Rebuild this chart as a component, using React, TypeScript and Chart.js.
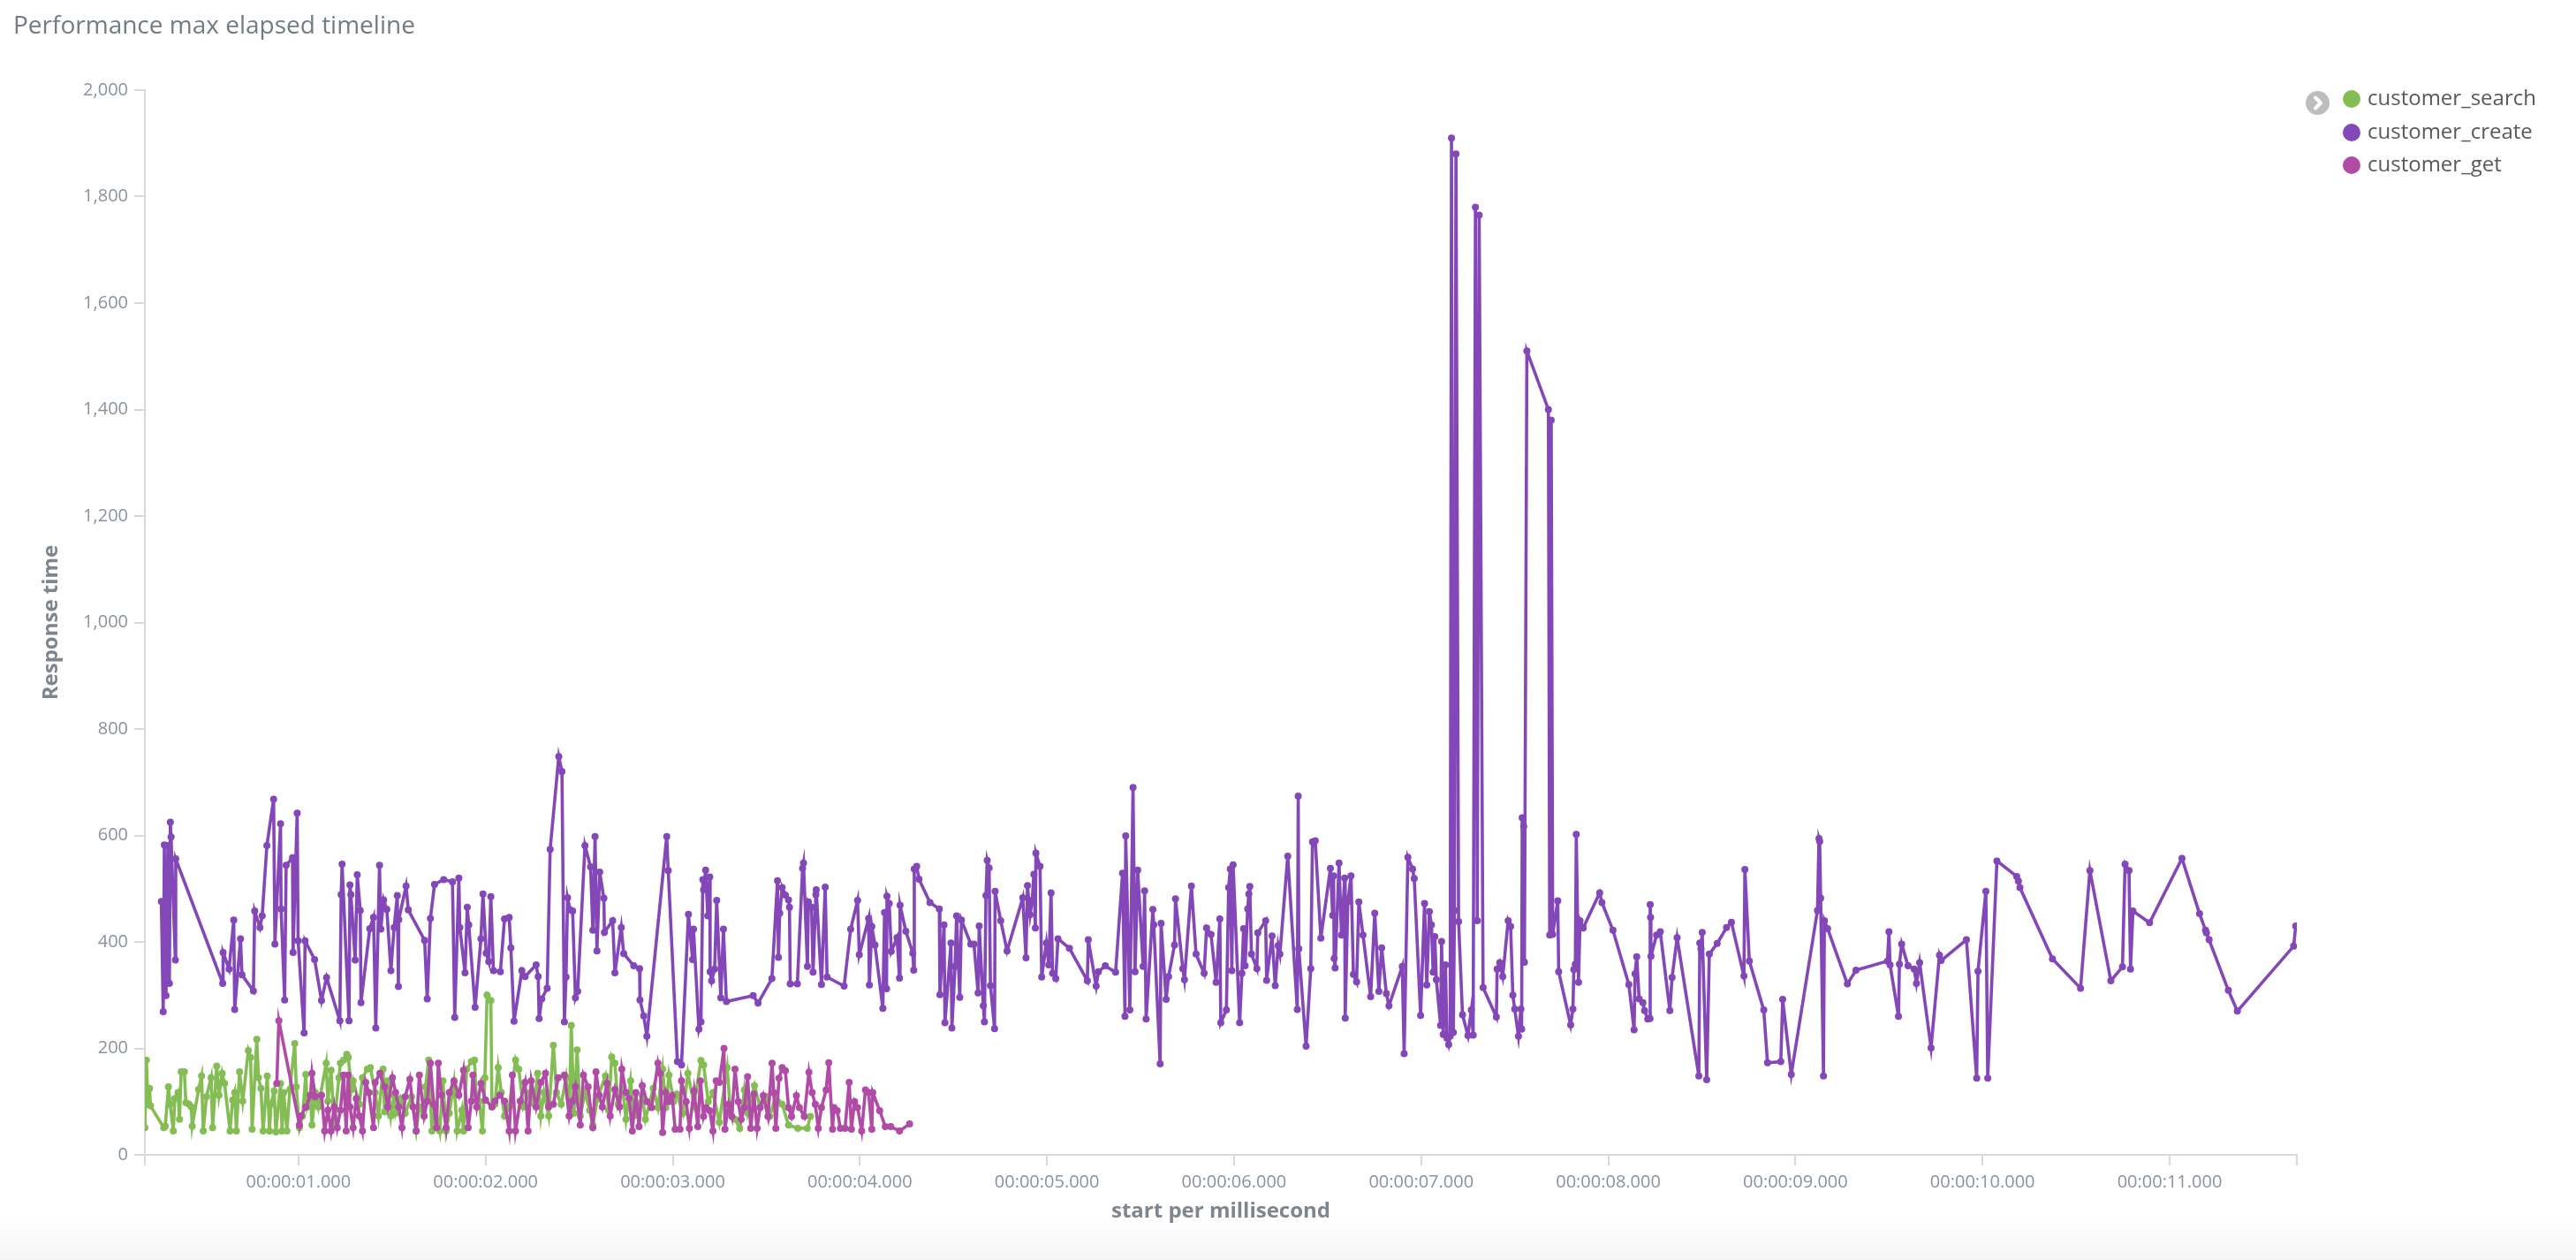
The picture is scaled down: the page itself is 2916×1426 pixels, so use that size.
import React, { useEffect, useRef } from 'react';
import { Chart, registerables } from 'chart.js';
Chart.register(...registerables);

type Pt = [number, number];

const chartTitle = 'Performance max elapsed timeline';
const xAxisTitle = 'start per millisecond';
const yAxisTitle = 'Response time';
const seriesNames = ['customer_search', 'customer_create', 'customer_get'];
const seriesColors = ['#84BD54', '#8347B8', '#B04CA6'];

const xMin = 179;
const xMax = 11680;
const xTickValues = [1000, 2000, 3000, 4000, 5000, 6000, 7000, 8000, 9000, 10000, 11000];
const xTickLabels = ['00:00:01.000', '00:00:02.000', '00:00:03.000', '00:00:04.000', '00:00:05.000', '00:00:06.000', '00:00:07.000', '00:00:08.000', '00:00:09.000', '00:00:10.000', '00:00:11.000'];
const yTickValues = [0, 200, 400, 600, 800, 1000, 1200, 1400, 1600, 1800, 2000];
const yTickLabels = ['0', '200', '400', '600', '800', '1,000', '1,200', '1,400', '1,600', '1,800', '2,000'];

const customerSearch: Pt[] = [
  [179,51],[187,178],[196,95],[204,125],[209,92],[280,51],[288,54],[305,128],[314,95],[331,45],[339,106],[356,117],[364,67],[373,156],[390,156],[398,98],[415,95],[427,90],[432,54],[466,123],[482,148],[491,45],[508,109],[533,145],[541,51],[563,167],[575,112],[592,153],[605,134],[634,45],[648,103],[659,117],[668,45],[685,156],[702,101],[732,196],[744,183],[752,48],[777,217],[786,145],[799,125],[811,45],[833,148],[845,45],[853,95],[870,120],[879,43],[904,134],[912,45],[921,117],[938,45],[954,123],[980,209],[988,128],[1005,51],[1022,73],[1039,151],[1047,90],[1064,106],[1072,56],[1089,117],[1106,90],[1148,172],[1157,101],[1174,159],[1191,56],[1216,145],[1224,172],[1241,178],[1258,189],[1266,183],[1283,123],[1292,139],[1325,95],[1342,145],[1368,161],[1384,164],[1410,117],[1427,73],[1452,161],[1460,81],[1477,139],[1494,73],[1511,112],[1519,78],[1545,106],[1570,78],[1604,109],[1629,45],[1646,90],[1671,73],[1679,128],[1696,178],[1713,45],[1730,90],[1755,45],[1772,139],[1789,45],[1806,78],[1831,136],[1848,45],[1873,84],[1882,45],[1899,161],[1924,175],[1941,178],[1949,112],[1966,101],[1983,45],[1996,145],[2008,300],[2028,290],[2034,90],[2050,95],[2067,164],[2084,117],[2101,73],[2126,90],[2160,178],[2177,161],[2202,90],[2236,117],[2261,95],[2278,153],[2295,73],[2312,117],[2337,73],[2362,206],[2379,117],[2404,95],[2430,145],[2447,73],[2458,243],[2472,78],[2489,197],[2506,73],[2531,117],[2556,84],[2573,56],[2598,106],[2640,148],[2657,84],[2674,184],[2691,172],[2708,95],[2733,123],[2750,67],[2775,139],[2792,73],
  [2803,83],[2837,111],[2854,67],[2896,125],[2921,89],[2946,161],[2963,89],[2980,150],[3005,100],[3022,114],[3055,78],[3081,153],[3114,95],[3151,177],[3165,169],[3190,100],[3215,117],[3249,61],[3291,164],[3308,83],[3333,67],[3358,50],[3383,122],[3400,78],[3437,130],[3467,89],[3501,109],[3518,72],[3551,111],[3585,95],[3619,56],[3669,50],[3719,50],[3736,72]
];

const customerCreate: Pt[] = [
  [267,476],[277,269],[283,582],[292,299],[302,581],[310,322],[315,625],[319,597],[342,366],[344,556],[595,322],[597,380],[629,349],[654,441],[659,273],[690,406],[698,338],[759,308],[766,458],[794,427],[806,449],[831,581],[867,668],[874,396],[904,622],[907,462],[926,291],[934,544],[968,558],[971,380],[993,642],[998,402],[1030,229],[1035,402],[1086,367],[1123,290],[1150,333],[1221,252],[1228,489],[1233,546],[1270,252],[1275,507],[1280,489],[1303,366],[1314,526],[1330,459],[1334,286],[1381,425],[1401,446],[1413,238],[1433,544],[1440,424],[1455,479],[1472,461],[1494,346],[1511,427],[1528,487],[1534,316],[1536,442],[1575,505],[1587,460],[1674,403],[1688,293],[1705,444],[1727,508],[1776,517],[1823,513],[1835,258],[1857,520],[1862,427],[1890,342],[1902,465],[1910,432],[1944,277],[1975,406],[1986,490],[2003,379],[2017,363],[2028,485],[2042,346],[2079,344],[2101,443],[2126,446],[2135,389],[2152,251],[2194,346],[2211,335],[2270,357],[2281,335],[2286,256],[2300,293],[2329,313],[2345,574],[2391,748],[2408,720],[2421,250],[2430,334],[2438,483],[2452,460],[2465,458],[2480,295],[2492,307],[2531,581],[2561,541],[2573,422],[2585,598],[2595,383],[2610,531],[2632,482],[2635,418],[2679,440],[2691,342],[2725,427],[2738,378],[2792,355],
  [2823,350],[2825,291],[2845,261],[2862,223],[2968,598],[2976,534],[3025,175],[3047,169],[3084,452],[3106,367],[3111,424],[3140,236],[3151,250],[3161,517],[3165,498],[3176,535],[3187,449],[3198,522],[3200,344],[3208,327],[3224,349],[3235,478],[3257,295],[3271,424],[3287,288],[3430,299],[3456,285],[3530,331],[3560,515],[3565,371],[3572,454],[3585,502],[3602,488],[3619,479],[3624,465],[3628,321],[3666,321],[3694,538],[3699,548],[3720,354],[3725,475],[3742,465],[3750,343],[3765,489],[3767,498],[3795,320],[3815,503],[3825,334],[3916,317],[3951,424],[3988,478],[3997,376],[4047,444],[4051,319],[4064,429],[4081,394],[4123,275],[4132,455],[4143,312],[4145,486],[4157,472],[4168,382],[4199,408],[4212,332],[4215,469],[4246,420],[4283,379],[4288,347],[4291,537],[4304,542],[4316,518],[4375,474],[4425,462],[4428,301],[4450,432],[4455,248],[4487,398],[4492,238],[4509,354],[4517,449],[4534,296],[4543,441],[4593,396],[4610,396],[4632,304],[4638,430],[4660,280],[4666,250],[4674,487],[4681,553],[4691,539],[4698,318],[4720,237],[4723,495],[4753,440],[4787,383],[4871,483],[4888,370],[4896,506],[4910,451],[4921,478],[4930,527],[4938,426],[4941,567],[4963,542],[4972,334],[4997,398],[5010,357],[5022,492],[5030,341],[5047,331],[5059,406],[5120,388],[5216,327],[5221,404],[5263,317],[5275,344],[5312,355],
  [5367,343],[5404,529],[5417,260],[5421,599],[5443,272],[5460,690],[5471,344],[5485,535],[5514,354],[5522,496],[5530,255],[5566,461],[5571,432],[5605,171],[5610,435],[5637,292],[5650,335],[5682,394],[5687,481],[5726,350],[5735,329],[5772,505],[5797,377],[5840,341],[5853,426],[5877,414],[5904,324],[5924,443],[5929,248],[5959,272],[5971,502],[5980,537],[5988,346],[5995,545],[6030,248],[6042,341],[6051,425],[6059,355],[6073,462],[6079,490],[6084,504],[6093,377],[6122,350],[6127,417],[6169,440],[6174,328],[6203,411],[6220,318],[6236,393],[6245,377],[6287,561],[6338,273],[6343,674],[6346,387],[6385,204],[6410,350],[6419,588],[6434,590],[6464,407],[6515,538],[6527,450],[6532,524],[6535,369],[6540,351],[6561,548],[6574,413],[6591,520],[6594,257],[6608,476],[6625,524],[6638,339],[6655,325],[6667,475],[6689,413],[6730,297],[6752,454],[6774,307],[6789,389],[6814,303],[6828,280],[6899,354],[6909,190],[6929,559],[6954,537],[6963,519],[6997,262],[7018,472],[7030,319],[7044,457],[7055,432],[7064,343],[7073,410],[7081,329],[7104,243],[7109,401],[7118,226],[7130,357],[7138,219],[7147,207],[7155,223],[7162,1910],[7172,230],[7178,459],[7186,1880],[7200,438],[7221,263],[7250,224],[7268,272],[7278,225],[7290,1780],[7300,440],[7310,1765],[7331,314],[7402,259],[7406,349],[7420,361],[7436,335],[7465,440],[7478,429],[7490,300],[7500,274],[7520,223],[7533,274],[7537,236],[7540,633],[7548,617],[7552,362],[7565,1510],[7680,1400],[7687,413],[7695,1380],[7703,414],[7730,477],[7735,344],[7799,244],[7811,274],[7816,348],[7824,358],[7829,602],[7841,324],[7849,440],[7866,426],
  [7954,492],[7966,474],[8025,422],[8110,320],[8138,235],[8143,340],[8152,372],[8165,293],[8185,286],[8194,271],[8211,255],[8223,256],[8224,470],[8226,446],[8228,373],[8258,413],[8278,419],[8329,271],[8341,333],[8368,408],[8484,148],[8489,398],[8495,387],[8502,418],[8526,141],[8540,377],[8582,397],[8632,427],[8658,437],[8725,336],[8730,536],[8754,364],[8831,272],[8851,173],[8922,175],[8932,292],[8978,151],[9118,459],[9126,594],[9130,589],[9135,482],[9150,148],[9155,440],[9172,425],[9278,321],[9324,347],[9492,364],[9500,419],[9506,357],[9551,260],[9556,358],[9568,396],[9602,355],[9635,349],[9647,322],[9664,361],[9725,201],[9770,375],[9779,365],[9914,404],[9969,144],[9976,345],[10018,495],[10028,144],[10077,552],[10183,523],[10192,514],[10200,502],[10374,368],
  [10524,313],[10574,534],[10686,327],[10748,353],[10762,546],[10783,534],[10791,349],[10804,458],[10893,436],[11066,557],[11160,453],[11192,422],[11197,417],[11211,404],[11314,309],[11362,270],[11663,392],[11674,430]
];

const customerGet: Pt[] = [
  [884,134],[895,252],[1005,56],[1013,73],[1039,90],[1064,112],[1072,153],[1089,109],[1123,112],[1140,45],[1157,84],[1174,45],[1191,90],[1207,51],[1224,84],[1241,150],[1255,45],[1266,150],[1275,90],[1292,51],[1309,106],[1325,73],[1342,45],[1359,136],[1376,117],[1401,51],[1410,136],[1435,153],[1460,128],[1477,90],[1502,145],[1519,117],[1536,90],[1553,51],[1570,109],[1595,142],[1612,90],[1629,45],[1646,150],[1671,73],[1688,101],[1705,172],[1722,95],[1738,51],[1747,172],[1764,112],[1789,51],[1806,117],[1831,139],[1857,112],[1882,159],[1907,51],[1924,101],[1932,150],[1953,90],[1975,134],[2000,103],[2034,90],[2050,101],[2076,112],[2101,101],[2126,45],[2143,150],[2160,45],[2185,101],[2211,136],[2227,45],[2244,139],[2270,90],[2295,136],[2320,153],[2337,90],[2362,95],[2388,145],[2421,150],[2447,73],[2463,101],[2480,128],[2506,56],[2523,150],[2548,128],[2573,51],[2590,156],[2607,112],[2624,90],[2649,134],[2666,73],[2691,123],[2716,90],[2728,161],[2750,117],[2767,106],[2784,45],
  [2803,117],[2820,53],[2837,130],[2862,100],[2887,89],[2921,172],[2933,153],[2946,42],[2963,117],[2980,100],[2997,111],[3013,48],[3039,48],[3047,139],[3072,100],[3089,50],[3114,120],[3134,53],[3148,139],[3165,72],[3178,89],[3198,83],[3215,45],[3232,139],[3249,136],[3274,200],[3279,48],[3299,95],[3316,72],[3333,161],[3350,100],[3366,67],[3383,89],[3400,147],[3417,50],[3434,114],[3451,50],[3467,89],[3484,111],[3509,72],[3531,172],[3540,117],[3551,50],[3568,144],[3585,164],[3602,158],[3619,89],[3635,72],[3661,111],[3677,89],[3703,72],[3728,155],[3745,117],[3762,95],[3778,50],[3795,89],[3820,122],[3834,173],[3854,48],[3862,89],[3879,83],[3896,50],[3921,50],[3943,136],[3955,48],[3972,100],[3988,89],[4010,45],[4030,122],[4047,117],[4064,48],[4069,117],[4106,83],[4136,53],[4165,53],[4212,45],[4266,58]
];

const seriesData: Pt[][] = [customerSearch, customerCreate, customerGet];

const FONT = "'Open Sans', 'Noto Sans', sans-serif";
const TICK_COLOR = '#8a939b';
const TITLE_COLOR = '#7d868e';
const AXIS_COLOR = '#d9d9d9';

export default function App() {
  const canvasRef = useRef<HTMLCanvasElement | null>(null);

  useEffect(() => {
    if (!canvasRef.current) return;
    const axisCommon = {
      grid: { display: true, drawOnChartArea: false, drawTicks: true, tickLength: 12, color: AXIS_COLOR, lineWidth: 2 },
      border: { display: true, color: AXIS_COLOR, width: 2 },
    };
    const chart = new Chart(canvasRef.current, {
      type: 'line',
      data: {
        datasets: seriesData.map((pts, i) => ({
          label: seriesNames[i],
          data: pts.map(([x, y]) => ({ x, y })),
          borderColor: seriesColors[i],
          backgroundColor: seriesColors[i],
          pointBackgroundColor: seriesColors[i],
          pointBorderWidth: 0,
          pointRadius: 4,
          pointHoverRadius: 4,
          borderWidth: 3.6,
          tension: 0,
          fill: false,
          order: 3 - i,
        })),
      },
      options: {
        animation: false,
        responsive: false,
        maintainAspectRatio: false,
        devicePixelRatio: 1,
        events: [],
        layout: { padding: { left: 0, top: 102, right: 316, bottom: 40 } },
        plugins: {
          legend: { display: false },
          tooltip: { enabled: false },
          title: { display: false },
        },
        scales: {
          x: {
            type: 'linear',
            min: xMin,
            max: xMax,
            ...axisCommon,
            afterFit: (s: any) => { s.height = 79; },
            afterBuildTicks: (s: any) => {
              s.ticks = [{ value: xMin }, ...xTickValues.map((v) => ({ value: v })), { value: xMax }];
            },
            ticks: {
              autoSkip: false,
              maxRotation: 0,
              padding: 7,
              color: TICK_COLOR,
              font: { family: FONT, size: 20 },
              callback: (v: any) => {
                const i = xTickValues.indexOf(Number(v));
                return i >= 0 ? xTickLabels[i] : '';
              },
            },
            title: {
              display: true,
              text: xAxisTitle,
              color: TITLE_COLOR,
              font: { family: FONT, size: 24, weight: 'bold' },
              padding: { top: 0, bottom: 0 },
            },
          },
          y: {
            type: 'linear',
            min: 0,
            max: 2000,
            ...axisCommon,
            afterFit: (s: any) => { s.width = 164; },
            afterBuildTicks: (s: any) => {
              s.ticks = yTickValues.map((v) => ({ value: v }));
            },
            ticks: {
              autoSkip: false,
              padding: 7,
              color: TICK_COLOR,
              font: { family: FONT, size: 20 },
              callback: (v: any) => {
                const i = yTickValues.indexOf(Number(v));
                return i >= 0 ? yTickLabels[i] : '';
              },
            },
            title: {
              display: true,
              text: yAxisTitle,
              color: TITLE_COLOR,
              font: { family: FONT, size: 24, weight: 'bold' },
              padding: { top: 44, bottom: 0 },
            },
          },
        },
      } as any,
    });
    return () => chart.destroy();
  }, []);

  const legendRowY = [112, 150, 187];

  return (
    <div style={{ position: 'fixed', left: 0, top: 0, width: 2916, height: 1426, overflow: 'hidden', background: '#ffffff', fontFamily: FONT }}>
      <div style={{ position: 'absolute', left: 0, top: 1378, width: 2916, height: 48, background: 'linear-gradient(#ffffff, #f5f5f5)' }} />
      <canvas ref={canvasRef} width={2916} height={1426} style={{ position: 'absolute', left: 0, top: 0, width: 2916, height: 1426, display: 'block' }} />
      <div style={{ position: 'absolute', left: 15, top: 13, fontSize: 28, lineHeight: '28px', color: '#717c82', whiteSpace: 'nowrap' }}>
        {chartTitle}
      </div>
      <div style={{ position: 'absolute', left: 2610, top: 103, width: 27, height: 27, borderRadius: '50%', background: '#bdbdbd' }}>
        <svg width={27} height={27} viewBox="0 0 27 27" style={{ display: 'block' }}>
          <path d="M11 7.5 L17 13.5 L11 19.5" fill="none" stroke="#ffffff" strokeWidth={4} strokeLinecap="round" strokeLinejoin="round" />
        </svg>
      </div>
      {seriesNames.map((name, i) => (
        <div key={name} style={{ position: 'absolute', left: 2652, top: legendRowY[i] - 15, height: 30, display: 'flex', alignItems: 'center', whiteSpace: 'nowrap' }}>
          <div style={{ width: 20, height: 20, borderRadius: '50%', background: seriesColors[i], marginRight: 8 }} />
          <span style={{ fontSize: 24, color: '#595959', position: 'relative', top: -3 }}>{name}</span>
        </div>
      ))}
    </div>
  );
}
